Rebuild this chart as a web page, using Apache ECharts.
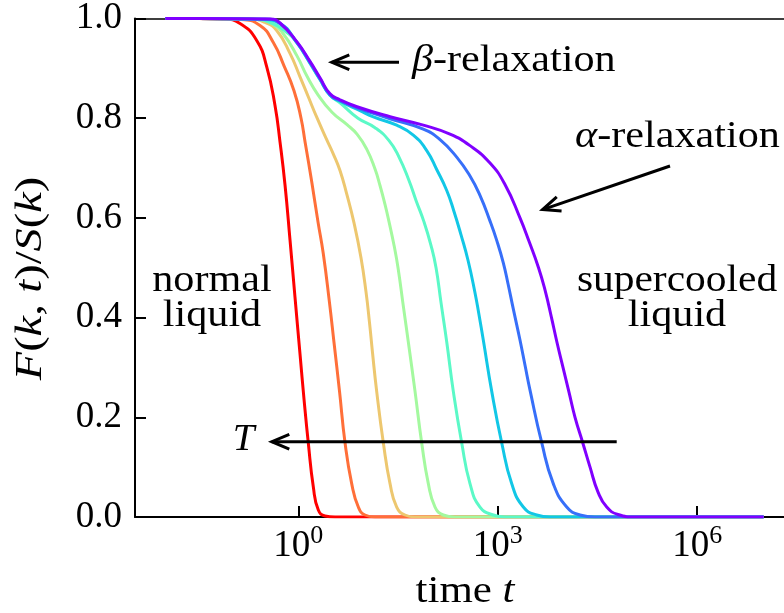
<!DOCTYPE html>
<html>
<head>
<meta charset="utf-8">
<script src="https://cdn.jsdelivr.net/npm/echarts@6/dist/echarts.min.js"></script>
<style>
  html, body { margin: 0; padding: 0; background: #fff; }
  #main { width: 784px; height: 613px; }
</style>
</head>
<body>
<div id="main"></div>
<script>
// ---- data: [log10(time), F(k,t)/S(k)] ----
const curveRed = [[-2,1],[-1.5,1],[-1.13,0.999],[-0.877,0.99],[-0.626,0.956],[-0.475,0.903],[-0.35,0.825],[-0.275,0.752],[-0.2,0.666],[-0.125,0.556],[-0.05,0.441],[0.026,0.326],[0.086,0.236],[0.15,0.149],[0.226,0.06],[0.301,0.014],[0.402,0.002],[0.552,0],[1,0],[3,0],[5,0],[7,0]];
const curveOrange = [[-2,1],[-1.5,1],[-0.877,0.998],[-0.576,0.986],[-0.376,0.952],[-0.215,0.905],[-0.065,0.855],[0.041,0.80],[0.101,0.753],[0.206,0.669],[0.296,0.592],[0.376,0.528],[0.469,0.43],[0.537,0.35],[0.62,0.252],[0.703,0.149],[0.803,0.067],[0.903,0.02],[1.003,0.004],[1.154,0],[3,0],[5,0],[7,0]];
const curveYellow = [[-2,1],[-1.5,1],[-0.727,0.999],[-0.5,0.992],[-0.325,0.976],[-0.125,0.93],[0.026,0.883],[0.15,0.843],[0.277,0.802],[0.427,0.757],[0.527,0.728],[0.627,0.695],[0.728,0.648],[0.838,0.59],[0.943,0.52],[1.018,0.452],[1.071,0.39],[1.116,0.33],[1.179,0.252],[1.279,0.149],[1.38,0.067],[1.48,0.02],[1.605,0.004],[1.756,0],[3,0],[5,0],[7,0]];
const curveGreen = [[-2,1],[-1.5,1],[-0.576,0.998],[-0.4,0.99],[-0.23,0.97],[-0.02,0.925],[0.131,0.884],[0.296,0.847],[0.507,0.812],[0.733,0.787],[0.883,0.768],[1.029,0.738],[1.154,0.698],[1.229,0.665],[1.304,0.627],[1.365,0.592],[1.44,0.545],[1.5,0.50],[1.583,0.42],[1.655,0.351],[1.756,0.252],[1.856,0.149],[1.956,0.067],[2.057,0.02],[2.181,0.004],[2.357,0],[4,0],[7,0]];
const curveAqua = [[-2,1],[-1.5,1],[-0.651,0.998],[-0.426,0.992],[-0.2,0.975],[-0.02,0.951],[0.176,0.91],[0.326,0.877],[0.477,0.846],[0.627,0.831],[0.898,0.80],[1.154,0.781],[1.365,0.755],[1.515,0.722],[1.665,0.675],[1.771,0.635],[1.891,0.592],[1.996,0.545],[2.072,0.50],[2.147,0.43],[2.233,0.351],[2.332,0.252],[2.458,0.149],[2.583,0.067],[2.733,0.02],[2.934,0.004],[3.11,0],[5,0],[7,0]];
const curveCyan = [[-2,1],[-1.5,1],[-0.546,0.998],[-0.275,0.99],[-0.02,0.951],[0.176,0.911],[0.326,0.878],[0.477,0.846],[0.627,0.834],[0.928,0.815],[1.139,0.802],[1.48,0.786],[1.73,0.766],[1.932,0.735],[2.082,0.697],[2.233,0.655],[2.342,0.613],[2.448,0.566],[2.553,0.515],[2.658,0.45],[2.719,0.405],[2.783,0.355],[2.91,0.252],[3.06,0.149],[3.21,0.067],[3.385,0.02],[3.587,0.004],[3.787,0],[5.5,0],[7,0]];
const curveBlue = [[-2,1],[-1.5,1],[-0.5,0.999],[-0.275,0.99],[-0.02,0.952],[0.176,0.912],[0.326,0.879],[0.477,0.847],[0.627,0.835],[0.883,0.821],[1.38,0.799],[1.881,0.778],[2.132,0.757],[2.383,0.722],[2.583,0.684],[2.733,0.645],[2.883,0.594],[2.985,0.555],[3.084,0.51],[3.155,0.468],[3.235,0.417],[3.335,0.355],[3.41,0.305],[3.485,0.255],[3.662,0.149],[3.836,0.067],[4.038,0.02],[4.238,0.004],[4.464,0],[6,0],[7,0]];
const curveViolet = [[-2,1],[-1.5,1],[-0.426,0.999],[-0.275,0.991],[-0.02,0.953],[0.176,0.914],[0.326,0.881],[0.477,0.849],[0.627,0.837],[0.883,0.823],[1.38,0.803],[1.881,0.786],[2.282,0.768],[2.583,0.745],[2.884,0.71],[3.109,0.667],[3.335,0.60],[3.471,0.553],[3.614,0.50],[3.712,0.455],[3.809,0.40],[3.892,0.35],[3.982,0.30],[4.073,0.25],[4.163,0.20],[4.279,0.149],[4.389,0.10],[4.509,0.05],[4.64,0.02],[4.81,0.005],[5.065,0],[7,0]];

const seriesCurves = [curveRed, curveOrange, curveYellow, curveGreen, curveAqua, curveCyan, curveBlue, curveViolet];
const seriesColors = ['#ff0000', '#ff6f39', '#edc76f', '#a4f99f', '#5bf9c7', '#12c7e6', '#376ff9', '#8000ff'];

const xTickExponents = [0, 3, 6];
const yTickInterval = 0.2;
const xRangeExponents = [-2.457, 7.307];

// ---- chart ----
const FONT = 'Liberation Serif';
const FS = 37;
const chart = echarts.init(document.getElementById('main'), null, { renderer: 'canvas' });

const xTickValues = xTickExponents.map(e => Math.pow(10, e));

function arrow(tail, tip) {
  const dx = tail[0] - tip[0], dy = tail[1] - tip[1];
  const len = Math.hypot(dx, dy);
  const ux = dx / len, uy = dy / len;
  const t = [tip[0] + ux * 3.5, tip[1] + uy * 3.5];
  const headLen = 19, ang = 23 * Math.PI / 180;
  const rot = a => [t[0] + headLen * (ux * Math.cos(a) - uy * Math.sin(a)),
                    t[1] + headLen * (ux * Math.sin(a) + uy * Math.cos(a))];
  return [
    { type: 'polyline', z: 100, shape: { points: [tail, t] }, style: { stroke: '#000', lineWidth: 3, fill: null } },
    { type: 'polyline', z: 100, shape: { points: [rot(ang), t, rot(-ang)] }, style: { stroke: '#000', lineWidth: 3, fill: null, lineJoin: 'miter' } }
  ];
}

function label(text, x, y, align, opts) {
  opts = opts || {};
  const fs = opts.fontSize || FS;
  return {
    type: 'text', z: 100, x, y,
    scaleX: opts.scaleX || 1.14,
    rotation: opts.rotation || 0,
    style: {
      text, x: 0, y: 0, align, verticalAlign: 'middle',
      fontSize: fs, fontFamily: FONT, fill: '#000',
      rich: { i: { fontStyle: 'italic', fontSize: fs, fontFamily: FONT, fill: '#000' } }
    }
  };
}

const option = {
  animation: false,
  backgroundColor: '#ffffff',
  textStyle: { fontFamily: FONT },
  grid: { left: 135, right: 0, top: 12.5, bottom: 96, containLabel: false },
  xAxis: [{
    type: 'log',
    logBase: 10,
    min: Math.pow(10, xRangeExponents[0]),
    max: Math.pow(10, xRangeExponents[1]),
    axisLine: { show: true, onZero: false, lineStyle: { color: '#000', width: 2 } },
    axisTick: { show: true, inside: true, length: 11, customValues: xTickValues, lineStyle: { color: '#000', width: 2 } },
    minorTick: { show: false },
    splitLine: { show: false },
    minorSplitLine: { show: false },
    axisLabel: {
      customValues: xTickValues,
      margin: 6,
      color: '#000',
      formatter: v => '{b|10}{s|' + Math.round(Math.log10(v)) + '}',
      rich: {
        b: { fontSize: FS, fontFamily: FONT, color: '#000', lineHeight: 42, verticalAlign: 'bottom' },
        s: { fontSize: 26, fontFamily: FONT, color: '#000', lineHeight: 26, verticalAlign: 'top' }
      }
    }
  }, {
    type: 'value',
    position: 'top',
    min: 0, max: 1,
    axisLine: { show: true, onZero: false, lineStyle: { color: '#000', width: 1.5 } },
    axisTick: { show: false },
    axisLabel: { show: false },
    splitLine: { show: false }
  }],
  yAxis: {
    type: 'value',
    min: 0, max: 1,
    interval: yTickInterval,
    axisLine: { show: true, onZero: false, lineStyle: { color: '#000', width: 2 } },
    axisTick: { show: true, inside: true, length: 11, lineStyle: { color: '#000', width: 2 } },
    splitLine: { show: false },
    axisLabel: { color: '#000', fontSize: FS, fontFamily: FONT, margin: 13, formatter: v => v.toFixed(1) }
  },
  series: seriesCurves.map((c, k) => ({
    type: 'line',
    xAxisIndex: 0,
    data: c.map(p => [Math.pow(10, p[0]), p[1]]),
    showSymbol: false,
    smooth: 0.5,
    lineStyle: { color: seriesColors[k], width: 3, join: 'round' },
    itemStyle: { color: seriesColors[k] },
    z: 2 + k
  })),
  graphic: [
    label('{i|β}-relaxation', 412, 61, 'left'),
    label('{i|α}-relaxation', 575, 137, 'left'),
    label('normal', 212, 281, 'center'),
    label('liquid', 212, 316, 'center'),
    label('supercooled', 677, 281, 'center', { scaleX: 1.12 }),
    label('liquid', 677, 316, 'center'),
    label('{i|T}', 243.5, 440, 'center', { scaleX: 1.05 }),
    label('time {i|t}', 465, 592, 'center', { scaleX: 1.16 }),
    label('{i|F}({i|k}, {i|t})/{i|S}({i|k})', 31, 278.5, 'center', { rotation: Math.PI / 2, scaleX: 1.22, fontSize: 38 }),
    ...arrow([399, 62.3], [328.3, 62.3]),
    ...arrow([670, 166], [539.3, 210.7]),
    ...arrow([616.7, 441.7], [268.3, 441.7])
  ]
};
chart.setOption(option);
</script>
</body>
</html>
